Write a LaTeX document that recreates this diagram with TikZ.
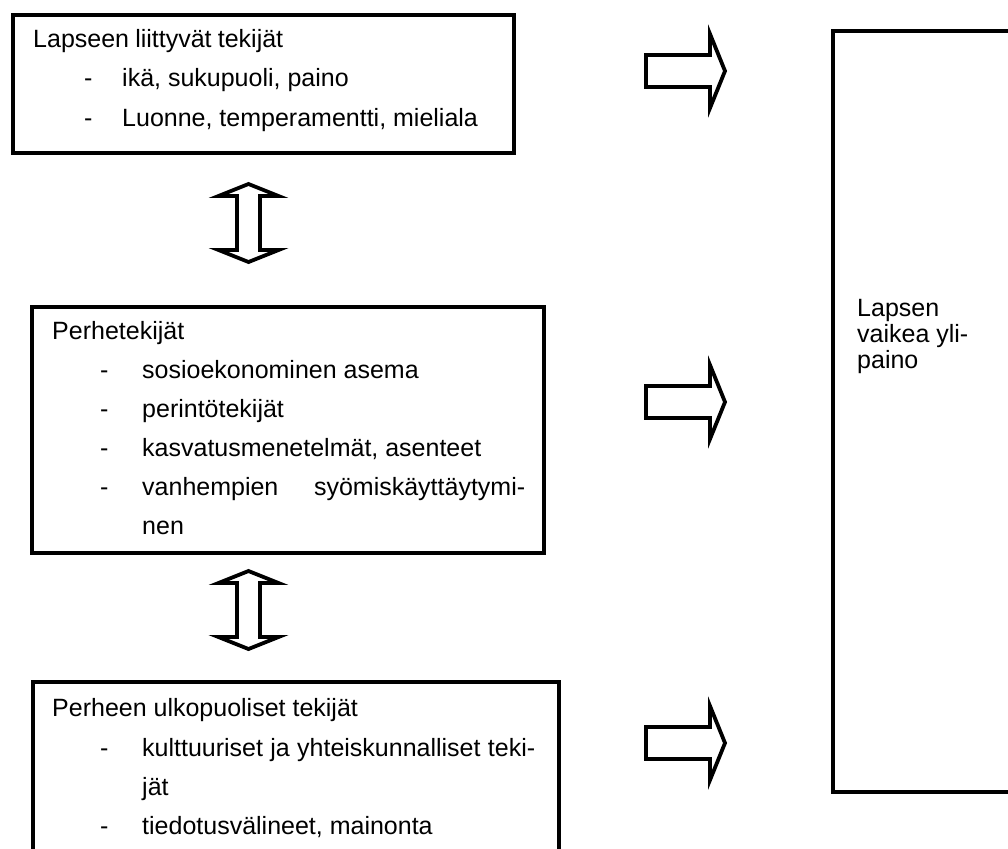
\documentclass[tikz,border=0pt]{standalone}
\usepackage{fontspec}
\setmainfont{Liberation Sans}
\begin{document}
\begin{tikzpicture}[x=1pt,y=-1pt,
  box/.style={draw=black, line width=4.5pt, outer sep=0pt, inner sep=0pt, anchor=north west},
  barrow/.style={draw=black, line width=3.8pt, fill=white, line join=miter},
  txt/.style={anchor=base west, inner sep=0pt, font=\fontsize{25}{29}\selectfont},
  rarrow/.pic={\draw[barrow] (-39.5,-16) -- (24.5,-16) -- (24.5,-37) -- (39.5,0) -- (24.5,37) -- (24.5,16) -- (-39.5,16) -- cycle;},
  udarrow/.pic={\draw[barrow] (0,-39) -- (30,-27) -- (11.5,-27) -- (11.5,27) -- (30,27) -- (0,39) -- (-30,27) -- (-11.5,27) -- (-11.5,-27) -- (-30,-27) -- cycle;}]
\useasboundingbox (0,0) rectangle (1008,848);
\clip (0,0) rectangle (1008,848);
\fill[white] (0,0) rectangle (1008,848);

% boxes
\node[box, minimum width=501pt, minimum height=138pt] (b1) at (13,15) {};
\node[box, minimum width=512pt, minimum height=246pt] (b2) at (32,307) {};
\node[box, minimum width=526pt, minimum height=200pt] (b3) at (33,682) {};
\node[box, minimum width=200pt, minimum height=761pt] (b4) at (833,31) {};

% box 1 text
\node[txt] (t1h) at (33,48) {\makebox[250pt][s]{Lapseen liittyvät tekijät}};
\node[txt] (t1d1) at (84,87) {-};
\node[txt] (t1a) at (122,87) {ikä, sukupuoli, paino};
\node[txt] (t1d2) at (84,127) {-};
\node[txt] (t1b) at (122,127) {Luonne, temperamentti, mieliala};

% box 2 text
\node[txt] (t2h) at (52,339) {Perhetekijät};
\node[txt] (t2d1) at (100,378) {-};
\node[txt] (t2a) at (142,378) {sosioekonominen asema};
\node[txt] (t2d2) at (100,417) {-};
\node[txt] (t2b) at (142,417) {perintötekijät};
\node[txt] (t2d3) at (100,456) {-};
\node[txt] (t2c) at (142,456) {kasvatusmenetelmät, asenteet};
\node[txt] (t2d4) at (100,495) {-};
\node[txt] (t2e) at (142,495) {\makebox[383pt][s]{vanhempien syömiskäyttäytymi-}};
\node[txt] (t2f) at (142,534) {nen};

% box 3 text
\node[txt] (t3h) at (52,716) {Perheen ulkopuoliset tekijät};
\node[txt] (t3d1) at (100,756) {-};
\node[txt] (t3a) at (142,756) {\makebox[393pt][s]{kulttuuriset ja yhteiskunnalliset teki-}};
\node[txt] (t3b) at (142,795) {jät};
\node[txt] (t3d2) at (100,834) {-};
\node[txt] (t3c) at (142,834) {tiedotusvälineet, mainonta};

% right box text
\node[txt] (t4a) at (857,316) {Lapsen};
\node[txt] (t4b) at (857,342) {vaikea yli-};
\node[txt] (t4c) at (857,368) {paino};

% block arrows
\pic (ra1) at (685.5,71) {rarrow};
\pic (ra2) at (685.5,402) {rarrow};
\pic (ra3) at (685.5,743) {rarrow};
\pic (ud1) at (248.5,223) {udarrow};
\pic (ud2) at (248.5,610) {udarrow};
\end{tikzpicture}
\end{document}
